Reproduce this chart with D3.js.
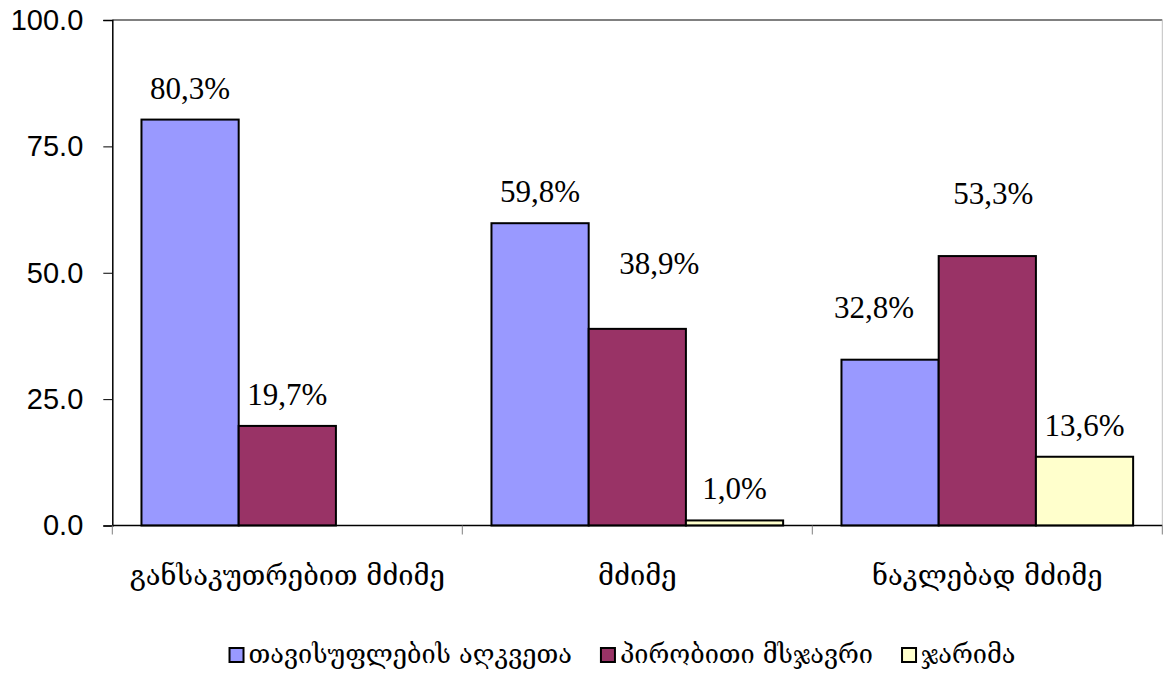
<!DOCTYPE html>
<html>
<head>
<meta charset="utf-8">
<script src="https://cdn.jsdelivr.net/npm/d3@7"></script>
<style>
  html, body { margin: 0; padding: 0; background: #fff; }
  svg { display: block; }
</style>
</head>
<body>
<svg id="chart" width="1163" height="674"></svg>
<script>
// ---- data ----
const categories = ["განსაკუთრებით მძიმე", "მძიმე", "ნაკლებად მძიმე"];
const seriesNames = ["თავისუფლების აღკვეთა", "პირობითი მსჯავრი", "ჯარიმა"];
const seriesA = [80.3, 59.8, 32.8];   // თავისუფლების აღკვეთა
const seriesB = [19.7, 38.9, 53.3];   // პირობითი მსჯავრი
const seriesC = [null, 1.0, 13.6];    // ჯარიმა
const yTicks = [0, 25, 50, 75, 100];

// ---- layout / style ----
const colors = ["#9999FF", "#993366", "#FFFFCC"];
const plot = { left: 112.3, right: 1162.3, top: 20, bottom: 525.5 };
// manual label nudges (dx, dy) as in the original chart, keyed [series][category]
const labelNudge = [
  [[0, 0], [0, 0], [-16, -21]],
  [[0, 0], [22, -34], [6, -31]],
  [[0, 0], [0, 0], [0, 0]]
];

const svg = d3.select("#chart");
const values = [seriesA, seriesB, seriesC];

const x0 = d3.scaleBand().domain(categories).range([plot.left, plot.right]).paddingInner(0).paddingOuter(0);
const x1 = d3.scaleBand().domain(d3.range(seriesNames.length)).range([0, x0.bandwidth()]).paddingInner(0).paddingOuter(0.3);
const y = d3.scaleLinear().domain([0, 100]).range([plot.bottom, plot.top]);

// plot frame (top and right, grey)
svg.append("line").attr("x1", plot.left).attr("x2", plot.right).attr("y1", plot.top).attr("y2", plot.top)
  .attr("stroke", "#808080").attr("stroke-width", 2);
svg.append("line").attr("x1", plot.right).attr("x2", plot.right).attr("y1", plot.top).attr("y2", plot.bottom)
  .attr("stroke", "#c0c0c0").attr("stroke-width", 1);

// bars
const rows = [];
values.forEach((arr, s) => arr.forEach((v, c) => { if (v != null) rows.push({ s, c, v }); }));

svg.append("g").selectAll("rect").data(rows).join("rect")
  .attr("x", d => x0(categories[d.c]) + x1(d.s))
  .attr("y", d => y(d.v))
  .attr("width", x1.bandwidth())
  .attr("height", d => y(0) - y(d.v))
  .attr("fill", d => colors[d.s])
  .attr("stroke", "#000")
  .attr("stroke-width", 2);

// value labels
const fmt = v => v.toFixed(1).replace(".", ",") + "%";
svg.append("g").selectAll("text").data(rows).join("text")
  .attr("x", d => x0(categories[d.c]) + x1(d.s) + x1.bandwidth() / 2 + labelNudge[d.s][d.c][0])
  .attr("y", d => y(d.v) - 21 + labelNudge[d.s][d.c][1])
  .attr("text-anchor", "middle")
  .attr("font-family", "'Liberation Serif', 'Times New Roman', serif")
  .attr("font-size", 31)
  .attr("fill", "#000")
  .text(d => fmt(d.v));

// y axis
const yAxis = d3.axisLeft(y).tickValues(yTicks).tickFormat(d3.format(".1f")).tickSize(9).tickPadding(20);
const gy = svg.append("g").attr("transform", `translate(${plot.left},0)`).call(yAxis);
gy.select(".domain").attr("stroke", "#000").attr("stroke-width", 1.5);
gy.selectAll(".tick line").attr("stroke", "#000").attr("stroke-width", 1);
gy.selectAll(".tick text").attr("font-family", "'Liberation Sans', Arial, sans-serif").attr("font-size", 29).attr("fill", "#000");

// x axis (line + boundary ticks)
svg.append("line").attr("x1", plot.left).attr("x2", plot.right).attr("y1", plot.bottom).attr("y2", plot.bottom)
  .attr("stroke", "#000").attr("stroke-width", 1.5);
const bounds = categories.map(c => x0(c)).concat([plot.right]);
svg.append("g").selectAll("line").data(bounds).join("line")
  .attr("x1", d => d).attr("x2", d => d).attr("y1", plot.bottom).attr("y2", plot.bottom + 9)
  .attr("stroke", "#808080").attr("stroke-width", 1);

// category labels
svg.append("g").selectAll("text").data(categories).join("text")
  .attr("x", d => x0(d) + x0.bandwidth() / 2)
  .attr("y", 585)
  .attr("text-anchor", "middle")
  .attr("font-family", "'DejaVu Serif', 'DejaVu Sans', serif")
  .attr("font-size", 27.3)
  .attr("fill", "#000")
  .text(d => d);

// legend
const lg = svg.append("g");
const items = lg.selectAll("g").data(seriesNames).join("g");
items.append("rect").attr("width", 14).attr("height", 14).attr("y", 648)
  .attr("fill", (d, i) => colors[i]).attr("stroke", "#000").attr("stroke-width", 2);
items.append("text").attr("x", 19).attr("y", 663)
  .attr("font-family", "'DejaVu Serif', 'DejaVu Sans', serif")
  .attr("font-size", 25.3)
  .attr("fill", "#000")
  .text(d => d);
let xpos = 0; const positions = [];
items.each(function () {
  const w = d3.select(this).select("text").node().getComputedTextLength();
  positions.push(xpos);
  xpos += 19 + w + 29;
});
const total = xpos - 29;
const startX = 622.5 - total / 2;
items.attr("transform", (d, i) => `translate(${startX + positions[i]},0)`);
</script>
</body>
</html>
